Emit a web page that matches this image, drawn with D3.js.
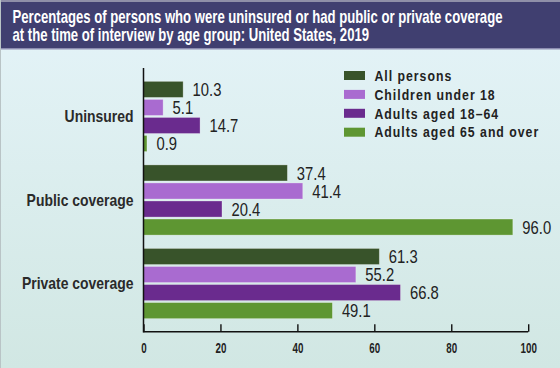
<!DOCTYPE html>
<html><head><meta charset="utf-8">
<script src="https://cdn.jsdelivr.net/npm/d3@7"></script>
<style>
html,body{margin:0;padding:0;background:#fff;}
svg{display:block;}
text{font-family:"Liberation Sans",Arial,sans-serif;}
</style></head>
<body>
<svg id="chart" width="560" height="368"></svg>
<script>
const categories = ["Uninsured", "Public coverage", "Private coverage"];
const seriesNames = ["All persons", "Children under 18", "Adults aged 18\u201364", "Adults aged 65 and over"];
const allPersons = [10.3, 37.4, 61.3];
const children = [5.1, 41.4, 55.2];
const adults1864 = [14.7, 20.4, 66.8];
const adults65 = [0.9, 96.0, 49.1];
const tickValues = [0, 20, 40, 60, 80, 100];
const titleLines = ["Percentages of persons who were uninsured or had public or private coverage",
                    "at the time of interview by age group: United States, 2019"];
const colors = ["#38532a", "#a96bd0", "#6a2b8e", "#5e9632"];

const seriesValues = [allPersons, children, adults1864, adults65];
const svg = d3.select("#chart");

// horizontally condense text around its x anchor (mimics a condensed face)
function condense(sel, k){
  sel.each(function(){
    const t = d3.select(this);
    const xx = +t.attr("x") || 0;
    t.attr("transform", `translate(${xx},0) scale(${k},1) translate(${-xx},0)`);
  });
}

const defs = svg.append("defs");
const grad = defs.append("linearGradient").attr("id","bg").attr("x1",0).attr("y1",0).attr("x2",0).attr("y2",1);
grad.append("stop").attr("offset","0%").attr("stop-color","#e5f4f9");
grad.append("stop").attr("offset","100%").attr("stop-color","#d1e7e3");

svg.append("rect").attr("x",0).attr("y",0).attr("width",560).attr("height",368).attr("fill","url(#bg)");
svg.append("rect").attr("x",0).attr("y",0).attr("width",560).attr("height",49).attr("fill","#403f70");
svg.append("rect").attr("x",0).attr("y",0).attr("width",560).attr("height",2).attr("fill","#8f8fa8");
svg.append("rect").attr("x",0).attr("y",48).attr("width",560).attr("height",1.5).attr("fill","#8c8cb0");
svg.append("rect").attr("x",0).attr("y",0).attr("width",1).attr("height",368).attr("fill","#b9c4c6");

const titles = svg.append("g").selectAll("text").data(titleLines).join("text")
  .attr("x",12.5).attr("y",(d,i)=>23 + i*18.5)
  .attr("fill","#ffffff").attr("font-size",18).attr("font-weight","bold")
  .text(d=>d);
const w0 = titles.node().getComputedTextLength();
condense(titles, 490 / w0);

const x = d3.scaleLinear().domain([0,100]).range([143.5, 528.2]);
const y = d3.scaleBand().domain(categories).range([68, 332]).paddingInner(0.16).paddingOuter(0.16);
const yInner = d3.scaleBand().domain(d3.range(4)).range([0, y.bandwidth()]).paddingInner(0.11);

const groups = svg.append("g").selectAll("g").data(categories).join("g")
  .attr("transform", d=>`translate(0,${y(d)})`);

groups.each(function(cat, ci){
  const g = d3.select(this);
  const rows = seriesValues.map((arr, si)=>({si, v: arr[ci]}));
  g.selectAll("rect").data(rows).join("rect")
    .attr("x", x(0)).attr("y", d=>yInner(d.si))
    .attr("width", d=>x(d.v)-x(0)).attr("height", yInner.bandwidth())
    .attr("fill", d=>colors[d.si])
    .attr("stroke","#ffffff").attr("stroke-opacity",0.35).attr("stroke-width",0.8);
  const vals = g.selectAll("text.val").data(rows).join("text").attr("class","val")
    .attr("x", d=>x(d.v)+9.5).attr("y", d=>yInner(d.si)+yInner.bandwidth()/2)
    .attr("dy","0.36em").attr("font-size",18.5).attr("fill","#222222")
    .text(d=>d.v.toFixed(1));
  condense(vals, 0.8);
});

const cats = svg.append("g").selectAll("text").data(categories).join("text")
  .attr("x",133.5).attr("y",d=>y(d)+y.bandwidth()/2).attr("dy","0.36em")
  .attr("text-anchor","end").attr("font-size",16.5).attr("font-weight","bold").attr("fill","#2a2a2a")
  .text(d=>d);
condense(cats, 0.845);

// x axis
const xAxis = d3.axisBottom(x).tickValues(tickValues).tickSize(0).tickPadding(0);
const ax = svg.append("g").attr("transform","translate(0,331.7)").call(xAxis);
ax.select(".domain").remove();
const tt = ax.selectAll(".tick text").attr("x",0).attr("y",21.5).attr("dy",0).attr("font-size",14).attr("font-weight","bold")
  .attr("fill","#222").attr("font-family",null);
condense(tt, 0.7);
ax.selectAll(".tick").append("line").attr("y1",0).attr("y2",-7.5).attr("stroke","#111").attr("stroke-width",1.4);
ax.append("line").attr("x1",x(0)).attr("x2",x(100)).attr("stroke","#111").attr("stroke-width",1.5);
svg.append("line").attr("x1",x(0)).attr("x2",x(0)).attr("y1",68).attr("y2",332.4).attr("stroke","#111").attr("stroke-width",1.5);

// legend
const legend = svg.append("g").attr("transform","translate(344,71)");
const li = legend.selectAll("g").data(seriesNames).join("g").attr("transform",(d,i)=>`translate(0,${i*18.9})`);
li.append("rect").attr("width",21).attr("height",9).attr("fill",(d,i)=>colors[i]);
const lt = li.append("text").attr("x",30.5).attr("y",9.7).attr("font-size",15).attr("font-weight","bold")
  .attr("letter-spacing",1.2).attr("fill","#222").text(d=>d);
condense(lt, 0.82);
</script>
</body></html>
